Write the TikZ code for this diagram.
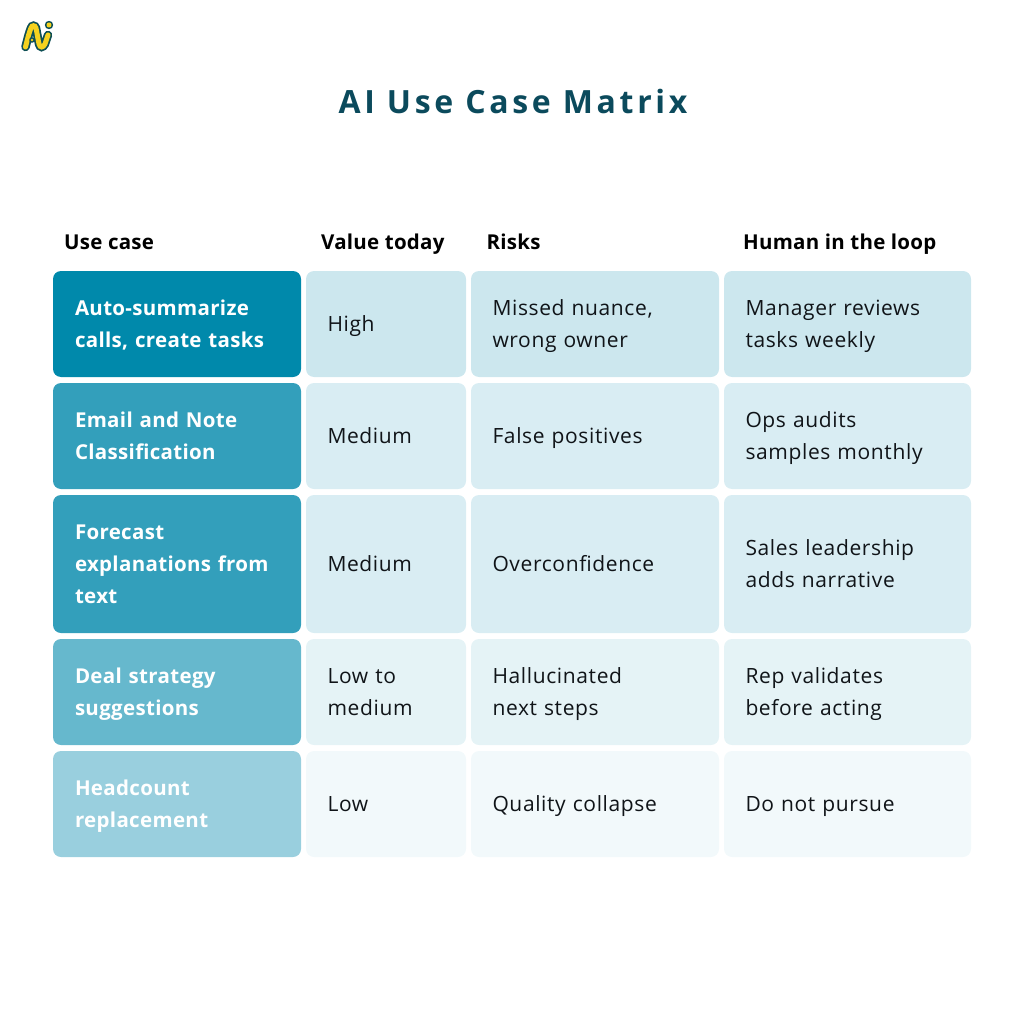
\documentclass[tikz,border=0pt]{standalone}
\usepackage{fontspec}
\setmainfont{Open Sans}
\usetikzlibrary{positioning}
\definecolor{titleteal}{HTML}{0B4A5C}
\definecolor{inkblack}{HTML}{101418}
\definecolor{keyA}{HTML}{0089AB}
\definecolor{keyB}{HTML}{339FBB}
\definecolor{keyC}{HTML}{66B8CD}
\definecolor{keyD}{HTML}{99CFDE}
\definecolor{tintA}{HTML}{CCE7EE}
\definecolor{tintB}{HTML}{D9EDF3}
\definecolor{tintC}{HTML}{E5F3F6}
\definecolor{tintD}{HTML}{F2F9FB}
\definecolor{logoline}{HTML}{0E4F55}
\definecolor{logofill}{HTML}{F5D21F}
\newcommand{\cellstrut}{\rule[-8.5pt]{0pt}{32pt}}
\newcommand{\logostroke}{(25.5,47) .. controls (28,37) and (29,33) .. (31,28) .. controls (32,25) and (35,25) .. (36,28) .. controls (37,33) and (38,39) .. (39,44) .. controls (40,48) and (43,48) .. (45,44) .. controls (46,41) and (47,38) .. (48,35)}
\tikzset{
    cell/.style={anchor=north west, rounded corners=8pt, inner xsep=21.5pt, inner ysep=0pt, outer sep=0pt, align=left, text=inkblack,
                 font=\fontsize{21}{32}\selectfont\addfontfeatures{LetterSpace=3},
                 execute at begin node=\cellstrut, execute at end node=\cellstrut},
    keycell/.style={cell, inner xsep=22pt, text width=204pt, text=white, font=\fontsize{20.5}{32}\selectfont\bfseries\addfontfeatures{LetterSpace=1.6}},
    valcell/.style={cell, text width=117pt},
    riskcell/.style={cell, text width=205pt},
    loopcell/.style={cell, text width=204pt},
    head/.style={anchor=base west, inner sep=0pt, text=black, font=\fontsize{20.5}{24}\selectfont\bfseries\addfontfeatures{LetterSpace=1.2}}
}
\begin{document}
\begin{tikzpicture}[x=1pt, y=-1pt]
    \useasboundingbox (0,0) rectangle (1024,1024);

    % Logo:
    \draw [logoline, line width=8.5pt, line cap=round] \logostroke;
    \draw [logofill, line width=5pt, line cap=round] \logostroke;
    \fill [logoline] (49,25) circle (4.2pt);
    \fill [logofill] (49,25) circle (2.5pt);
    \fill [logoline] (32,40) circle (2.8pt);
    \fill [logofill] (32,40) circle (1.4pt);

    % Title:
    \node (title) [inner sep=0pt, text=titleteal, font=\fontsize{32}{36}\selectfont\bfseries\addfontfeatures{LetterSpace=11.5}] at (513,102) {AI Use Case Matrix};

    % Column heads:
    \node (headcase) [head] at (64,249) {Use case};
    \node (headvalue) [head] at (321,249) {Value today};
    \node (headrisk) [head] at (486.5,249) {Risks};
    \node (headloop) [head] at (743,249) {Human in the loop};

    % Rows:
    \node (caseA) [keycell, fill=keyA, minimum height=106pt] at (53,271) {Auto-summarize\\calls, create tasks};
    \node (valueA) [valcell, fill=tintA, minimum height=106pt] at (306,271) {High};
    \node (riskA) [riskcell, fill=tintA, minimum height=106pt] at (471,271) {Missed nuance,\\wrong owner};
    \node (loopA) [loopcell, fill=tintA, minimum height=106pt] at (724,271) {Manager reviews\\tasks weekly};

    \node (caseB) [keycell, fill=keyB, minimum height=106pt] at (53,383) {Email and Note\\Classification};
    \node (valueB) [valcell, fill=tintB, minimum height=106pt] at (306,383) {Medium};
    \node (riskB) [riskcell, fill=tintB, minimum height=106pt] at (471,383) {False positives};
    \node (loopB) [loopcell, fill=tintB, minimum height=106pt] at (724,383) {Ops audits\\samples monthly};

    \node (caseC) [keycell, fill=keyB, minimum height=138pt] at (53,495) {Forecast\\explanations from\\text};
    \node (valueC) [valcell, fill=tintB, minimum height=138pt] at (306,495) {Medium};
    \node (riskC) [riskcell, fill=tintB, minimum height=138pt] at (471,495) {Overconfidence};
    \node (loopC) [loopcell, fill=tintB, minimum height=138pt] at (724,495) {Sales leadership\\adds narrative};

    \node (caseD) [keycell, fill=keyC, minimum height=106pt] at (53,639) {Deal strategy\\suggestions};
    \node (valueD) [valcell, fill=tintC, minimum height=106pt] at (306,639) {Low to\\medium};
    \node (riskD) [riskcell, fill=tintC, minimum height=106pt] at (471,639) {Hallucinated\\next steps};
    \node (loopD) [loopcell, fill=tintC, minimum height=106pt] at (724,639) {Rep validates\\before acting};

    \node (caseE) [keycell, fill=keyD, minimum height=106pt] at (53,751) {Headcount\\replacement};
    \node (valueE) [valcell, fill=tintD, minimum height=106pt] at (306,751) {Low};
    \node (riskE) [riskcell, fill=tintD, minimum height=106pt] at (471,751) {Quality collapse};
    \node (loopE) [loopcell, fill=tintD, minimum height=106pt] at (724,751) {Do not pursue};
\end{tikzpicture}
\end{document}
